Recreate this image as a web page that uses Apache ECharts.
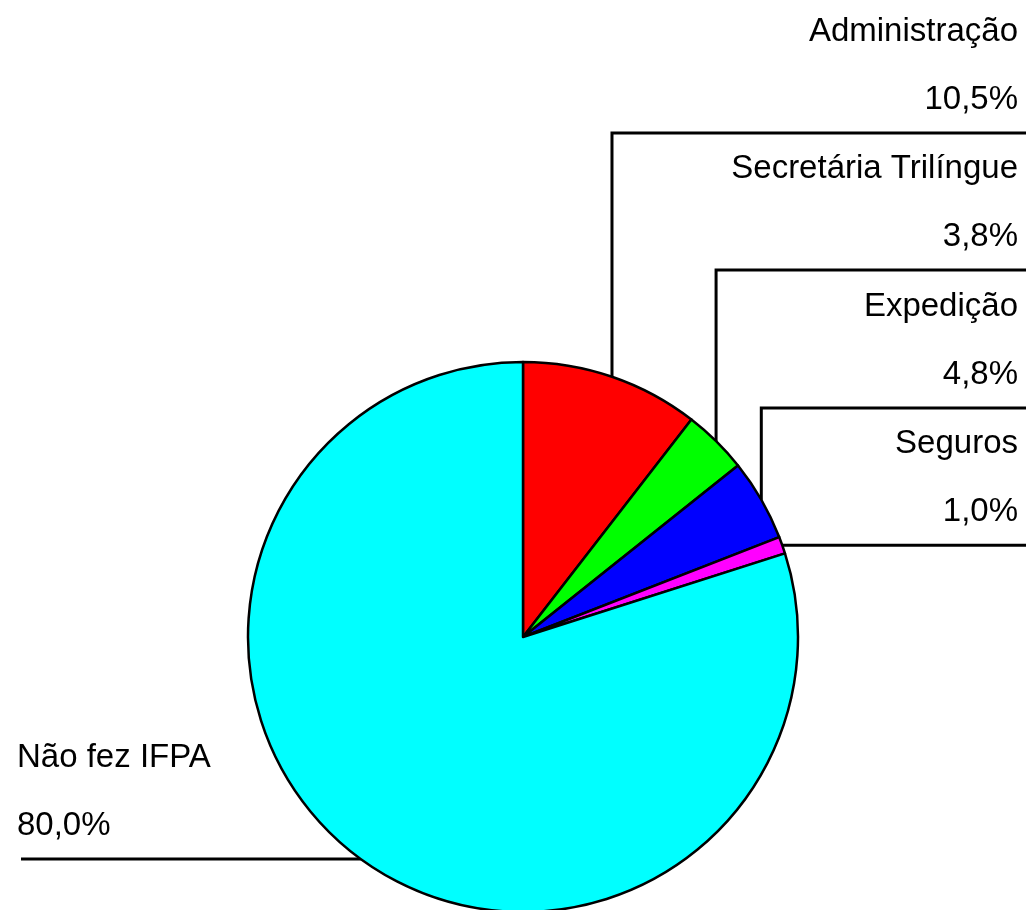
<!DOCTYPE html>
<html>
<head>
<meta charset="utf-8">
<title>IFPA</title>
<script src="https://cdn.jsdelivr.net/npm/echarts@6/dist/echarts.min.js"></script>
<style>
  html, body { margin: 0; padding: 0; background: #fff; }
  #chart { width: 1026px; height: 910px; }
</style>
</head>
<body>
<div id="chart"></div>
<script>
  // dados do gráfico
  const categories = ['Administração', 'Secretária Trilíngue', 'Expedição', 'Seguros', 'Não fez IFPA'];
  const percents = [10.5, 3.8, 4.8, 1.0, 80.0];
  const colors = ['#FF0000', '#00FF00', '#0000FF', '#FF00FF', '#00FFFF'];

  // posição das linhas horizontais dos rótulos da direita
  const rightLineY = [133, 270, 408, 544];

  const fmt = v => v.toFixed(1).replace('.', ',') + '%';

  const chart = echarts.init(document.getElementById('chart'));
  chart.setOption({
    backgroundColor: '#fff',
    animation: false,
    series: [{
      type: 'pie',
      center: [523, 637],
      radius: 275,
      startAngle: 90,
      clockwise: true,
      avoidLabelOverlap: false,
      emphasis: { disabled: true },
      itemStyle: { borderColor: '#000', borderWidth: 2.5 },
      label: {
        show: true,
        position: 'outside',
        color: '#000',
        fontFamily: 'Liberation Sans',
        fontSize: 33,
        lineHeight: 68,
        formatter: p => p.name + '\n' + fmt(p.value)
      },
      labelLine: {
        show: true,
        length: 5,
        length2: 5,
        lineStyle: { color: '#000', width: 3 }
      },
      labelLayout: function (params) {
        const i = params.dataIndex;
        const p0 = params.labelLinePoints[0];
        if (i < rightLineY.length) {
          const ly = i === rightLineY.length - 1 ? p0[1] : rightLineY[i];
          return {
            x: 1018, y: ly + 1, align: 'right', verticalAlign: 'bottom',
            labelLinePoints: [[p0[0], p0[1]], [p0[0], ly], [1026, ly]]
          };
        }
        return {
          x: 17, y: p0[1] + 1, align: 'left', verticalAlign: 'bottom',
          labelLinePoints: [[p0[0], p0[1]], [p0[0], p0[1]], [21, p0[1]]]
        };
      },
      data: categories.map((name, i) => ({
        name: name,
        value: percents[i],
        itemStyle: { color: colors[i] }
      }))
    }]
  });
</script>
</body>
</html>
